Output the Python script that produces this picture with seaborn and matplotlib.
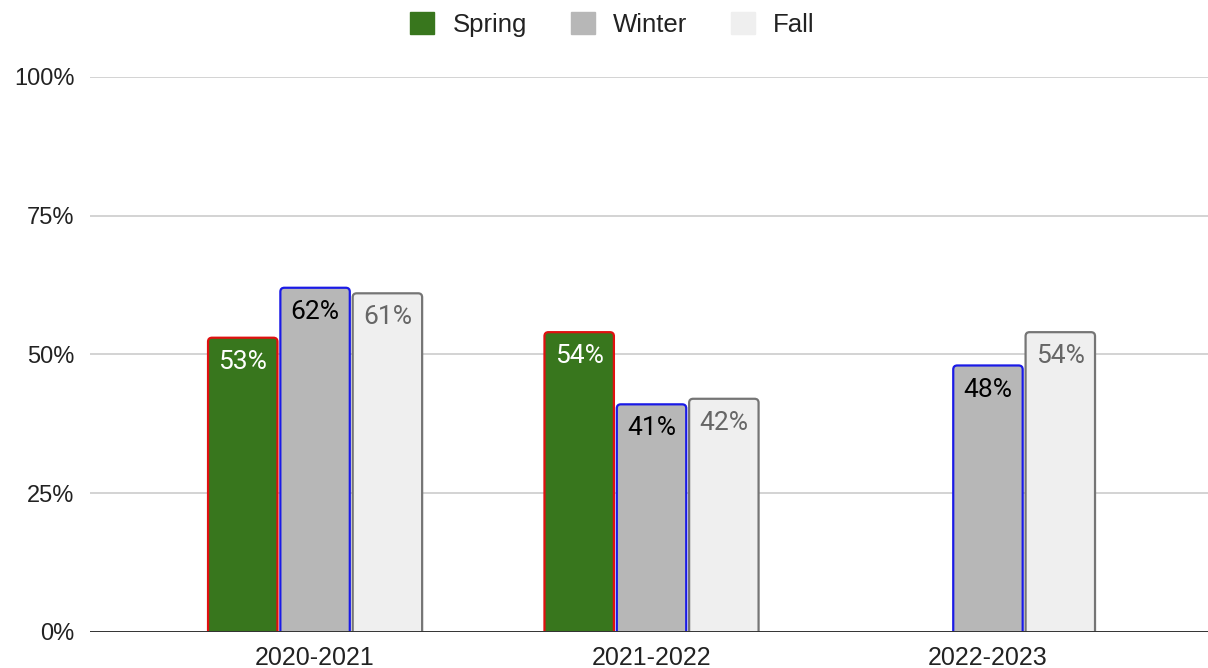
import pandas as pd
import numpy as np
import matplotlib
matplotlib.use("Agg")
import matplotlib.pyplot as plt
import seaborn as sns
from matplotlib.patches import Patch, FancyBboxPatch

years = ["2020-2021", "2021-2022", "2022-2023"]
seasons = ["Spring", "Winter", "Fall"]
spring = [53, 54, np.nan]
winter = [62, 41, 48]
fall = [61, 42, 54]

fill_colors = {"Spring": "#38761d", "Winter": "#b7b7b7", "Fall": "#efefef"}
edge_colors = {"Spring": "#e01010", "Winter": "#1a1ae6", "Fall": "#757575"}
label_colors = {"Spring": "white", "Winter": "black", "Fall": "#666666"}

df = pd.DataFrame({
    "year": years * 3,
    "season": ["Spring"] * 3 + ["Winter"] * 3 + ["Fall"] * 3,
    "value": spring + winter + fall,
}).dropna()

sns.set_theme(style="white")
plt.rcParams["font.family"] = ["Liberation Sans", "DejaVu Sans"]

fig = plt.figure(figsize=(12.08, 6.68), dpi=100)
ax = fig.add_axes([0.0745, 0.054, 0.9255, 0.831])

sns.barplot(
    data=df, x="year", y="value", hue="season",
    order=years, hue_order=seasons, palette=fill_colors,
    width=0.645, gap=0.04, legend=False, ax=ax, saturation=1,
)

ax.set_ylim(0, 100)
ax.set_xlim(-0.669, 2.654)

# pixel size of one data unit, used to round the bar corners evenly
bbox = ax.get_window_extent()
px_x = bbox.width / (2.654 + 0.669)
px_y = bbox.height / 100
radius_px = 4
r_x = radius_px / px_x
aspect = px_x / px_y

for container, season in zip(ax.containers, seasons):
    ax.bar_label(
        container, fmt="%.0f%%", padding=-26, color=label_colors[season],
        fontsize=19, family=["Roboto", "DejaVu Sans"], zorder=4,
    )
    for bar in container:
        x, w, h = bar.get_x(), bar.get_width(), bar.get_height()
        if np.isnan(h):
            continue
        low = -radius_px / px_y * 2
        rounded = FancyBboxPatch(
            (x, low), w, h - low,
            boxstyle=f"round,pad=0,rounding_size={r_x}",
            mutation_aspect=aspect,
            facecolor=fill_colors[season], edgecolor=edge_colors[season],
            linewidth=1.6, zorder=3,
        )
        ax.add_patch(rounded)
        bar.set_visible(False)

ax.set_yticks([0, 25, 50, 75, 100])
ax.set_yticklabels(["0%", "25%", "50%", "75%", "100%"])
ax.yaxis.grid(True, color="#cccccc", linewidth=1.2)
ax.set_axisbelow(True)
ax.axhline(0, color="#333333", linewidth=1.4, zorder=5)
ax.tick_params(axis="both", colors="#222222", length=0)
ax.tick_params(axis="y", pad=11, labelsize=17)
ax.tick_params(axis="x", pad=10, labelsize=18)
ax.set_xlabel("")
ax.set_ylabel("")
sns.despine(ax=ax, left=True, bottom=True)

handles = [Patch(facecolor=fill_colors[s], edgecolor=fill_colors[s], label=s) for s in seasons]
fig.legend(
    handles=handles, loc="center", bbox_to_anchor=(0.507, 0.964), ncol=3,
    frameon=False, fontsize=18.5, handlelength=0.95, handleheight=0.95,
    handletextpad=0.7, columnspacing=1.7, labelcolor="#222222",
)

fig.savefig("out.png", dpi=100)
